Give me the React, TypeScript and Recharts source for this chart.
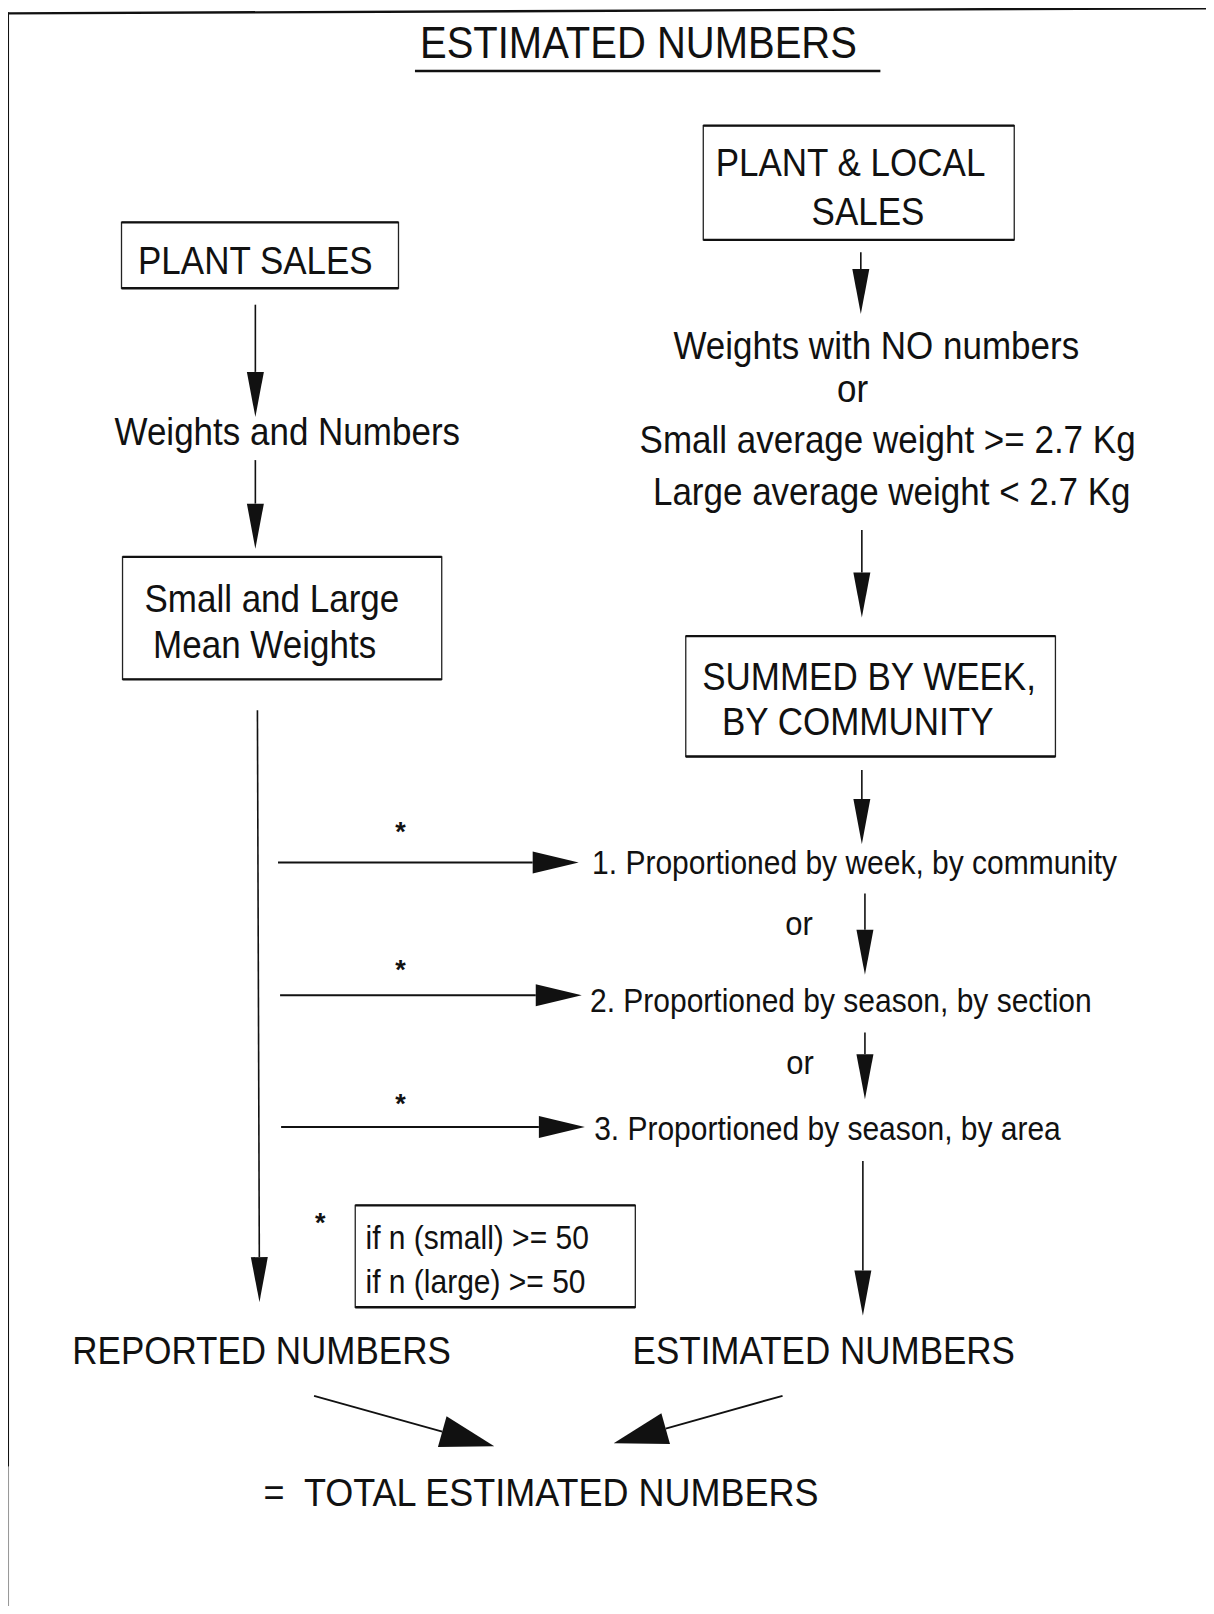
import React from 'react'
import { ScatterChart, Scatter, XAxis, YAxis, ReferenceLine, ReferenceArea } from 'recharts'

// diagram space: x 0..1179, y 0..1568 (top down), stretched to the 1214x1614 page by the axes

const titleLabel = [{ x: 620, y: 42, text: 'ESTIMATED NUMBERS' }]

const boxes = [
  { x1: 683, x2: 985, y1: 122, y2: 233 },
  { x1: 118, x2: 387, y1: 216, y2: 280 },
  { x1: 119, x2: 429, y1: 541, y2: 660 },
  { x1: 666, x2: 1025, y1: 618, y2: 735 },
  { x1: 345, x2: 617, y1: 1171, y2: 1270 },
]

const boxLabels = [
  { x: 826, y: 158, text: 'PLANT & LOCAL' },
  { x: 843, y: 206, text: 'SALES' },
  { x: 248, y: 253, text: 'PLANT SALES' },
  { x: 264, y: 582, text: 'Small and Large' },
  { x: 257, y: 627, text: 'Mean Weights' },
  { x: 844, y: 658, text: 'SUMMED BY WEEK,' },
  { x: 833, y: 701, text: 'BY COMMUNITY' },
]

const flowLabels = [
  { x: 851, y: 336, text: 'Weights with NO numbers' },
  { x: 828, y: 378, text: 'or' },
  { x: 862, y: 427, text: 'Small average weight >= 2.7 Kg' },
  { x: 866, y: 478, text: 'Large average weight < 2.7 Kg' },
  { x: 279, y: 420, text: 'Weights and Numbers' },
  { x: 254, y: 1312, text: 'REPORTED NUMBERS' },
  { x: 800, y: 1312, text: 'ESTIMATED NUMBERS' },
]

const stepLabels = [
  { x: 575, y: 838, text: '1. Proportioned by week, by community' },
  { x: 573, y: 972, text: '2. Proportioned by season, by section' },
  { x: 577, y: 1096, text: '3. Proportioned by season, by area' },
  { x: 355, y: 1202, text: 'if n (small) >= 50' },
  { x: 355, y: 1245, text: 'if n (large) >= 50' },
]

const orLabels = [
  { x: 776, y: 897, text: 'or' },
  { x: 777, y: 1032, text: 'or' },
]

const starLabels = [
  { x: 389, y: 808, text: '*' },
  { x: 389, y: 942, text: '*' },
  { x: 389, y: 1073, text: '*' },
  { x: 311, y: 1188, text: '*' },
]

const totalLabel = [{ x: 256, y: 1450, text: '=  TOTAL ESTIMATED NUMBERS' }]

const downArrows = [
  { x1: 836, y1: 245, x2: 836, y2: 305 },
  { x1: 837, y1: 515, x2: 837, y2: 600 },
  { x1: 837, y1: 748, x2: 837, y2: 820 },
  { x1: 840, y1: 868, x2: 840, y2: 947 },
  { x1: 840, y1: 1003, x2: 840, y2: 1068 },
  { x1: 838, y1: 1128, x2: 838, y2: 1278 },
  { x1: 248, y1: 296, x2: 248, y2: 405 },
  { x1: 248, y1: 447, x2: 248, y2: 533 },
  { x1: 250, y1: 690, x2: 252, y2: 1265 },
]

const rightArrows = [
  { x1: 270, y1: 838, x2: 562, y2: 838 },
  { x1: 272, y1: 967, x2: 565, y2: 967 },
  { x1: 273, y1: 1095, x2: 568, y2: 1095 },
]

const mergeArrows = [
  { x1: 305, y1: 1356, x2: 480, y2: 1405 },
  { x1: 760, y1: 1356, x2: 596, y2: 1402 },
]

const frameLines = [
  { x1: 8, y1: 13, x2: 1179, y2: 8, tone: '#111', w: 2.4 },
  { x1: 8, y1: 12, x2: 8, y2: 1425, tone: '#111', w: 1.6 },
  { x1: 8, y1: 1425, x2: 8, y2: 1568, tone: '#999', w: 1.6 },
  { x1: 403, y1: 69, x2: 855, y2: 69, tone: '#111', w: 2.4 },
]

const FONT = '"Liberation Sans", Arial, Helvetica, sans-serif'

const makeText = (size: number, anchor: 'start' | 'middle', stretch = 1.1, weight = 400) => (props: any) => {
  const { cx, cy, payload } = props
  return (
    <text
      transform={`translate(${cx},${cy}) scale(1,${stretch})`}
      textAnchor={anchor}
      dominantBaseline="central"
      fontFamily={FONT}
      fontSize={size}
      fontWeight={weight}
      fill="#111"
      style={{ whiteSpace: 'pre' }}
    >
      {payload.text}
    </text>
  )
}

const makeArrow = (headLen: number, headWidth: number, width: number) => (props: any) => {
  const x1 = Number(props.x1)
  const y1 = Number(props.y1)
  const x2 = Number(props.x2)
  const y2 = Number(props.y2)
  const len = Math.hypot(x2 - x1, y2 - y1) || 1
  const ux = (x2 - x1) / len
  const uy = (y2 - y1) / len
  const bx = x2 - ux * headLen
  const by = y2 - uy * headLen
  const px = -uy * headWidth / 2
  const py = ux * headWidth / 2
  return (
    <g>
      <line x1={x1} y1={y1} x2={bx} y2={by} stroke="#111" strokeWidth={width} />
      <polygon points={`${x2},${y2} ${bx + px},${by + py} ${bx - px},${by - py}`} fill="#111" />
    </g>
  )
}

const boxShape = (props: any) => {
  const { x, y, width, height } = props
  return (
    <g>
      <rect x={x} y={y} width={width} height={height} fill="none" stroke="#222" strokeWidth={1.3} />
      <line x1={x} y1={y} x2={x + width} y2={y} stroke="#111" strokeWidth={2.2} />
      <line x1={x} y1={y + height} x2={x + width} y2={y + height} stroke="#111" strokeWidth={2.4} />
    </g>
  )
}

const downShape = makeArrow(45, 17, 1.6)
const rightShape = makeArrow(46, 22, 2)
const mergeShape = makeArrow(54, 32, 1.8)

const App: React.FC = () => {
  return (
    <div style={{ margin: -8, width: 1214, height: 1614, background: '#fff' }}>
      <ScatterChart width={1214} height={1614} margin={{ top: 0, right: 0, bottom: 0, left: 0 }}>
        <XAxis type="number" dataKey="x" domain={[0, 1179]} allowDataOverflow hide />
        <YAxis type="number" dataKey="y" domain={[0, 1568]} allowDataOverflow reversed hide />

        {frameLines.map((l, i) => (
          <ReferenceLine
            key={`f${i}`}
            segment={[{ x: l.x1, y: l.y1 }, { x: l.x2, y: l.y2 }]}
            stroke={l.tone}
            strokeWidth={l.w}
          />
        ))}

        {boxes.map((b, i) => (
          <ReferenceArea key={`b${i}`} x1={b.x1} x2={b.x2} y1={b.y1} y2={b.y2} shape={boxShape} />
        ))}

        {downArrows.map((a, i) => (
          <ReferenceLine key={`d${i}`} segment={[{ x: a.x1, y: a.y1 }, { x: a.x2, y: a.y2 }]} shape={downShape} />
        ))}
        {rightArrows.map((a, i) => (
          <ReferenceLine key={`r${i}`} segment={[{ x: a.x1, y: a.y1 }, { x: a.x2, y: a.y2 }]} shape={rightShape} />
        ))}
        {mergeArrows.map((a, i) => (
          <ReferenceLine key={`m${i}`} segment={[{ x: a.x1, y: a.y1 }, { x: a.x2, y: a.y2 }]} shape={mergeShape} />
        ))}

        <Scatter data={titleLabel} shape={makeText(40, 'middle')} isAnimationActive={false} />
        <Scatter data={boxLabels} shape={makeText(35, 'middle')} isAnimationActive={false} />
        <Scatter data={flowLabels} shape={makeText(35, 'middle')} isAnimationActive={false} />
        <Scatter data={stepLabels} shape={makeText(30, 'start')} isAnimationActive={false} />
        <Scatter data={orLabels} shape={makeText(31, 'middle')} isAnimationActive={false} />
        <Scatter data={starLabels} shape={makeText(27, 'middle', 1, 700)} isAnimationActive={false} />
        <Scatter data={totalLabel} shape={makeText(36, 'start')} isAnimationActive={false} />
      </ScatterChart>
    </div>
  )
}

export default App
